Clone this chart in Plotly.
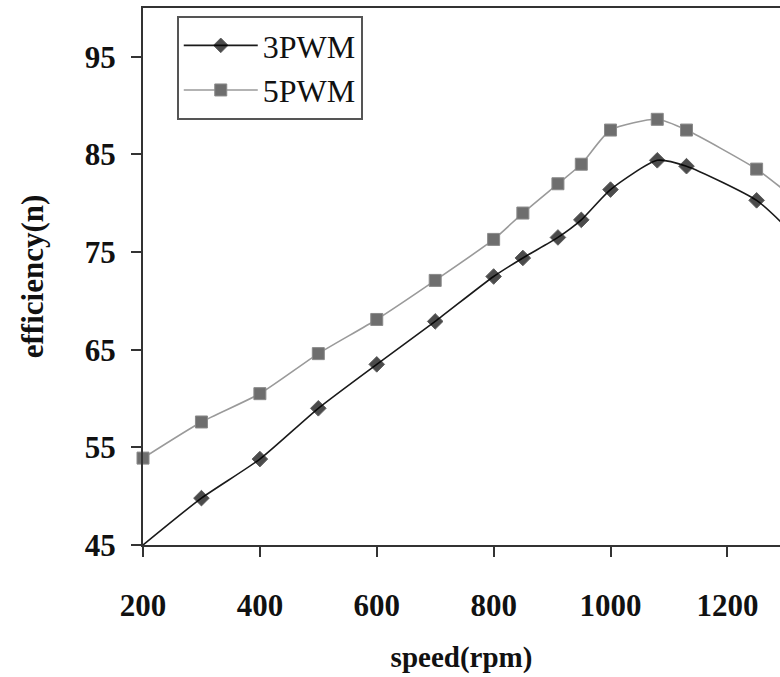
import plotly.graph_objects as go

speed = [200, 300, 400, 500, 600, 700, 800, 850, 910, 950, 1000, 1080, 1130, 1250, 1300]
pwm3 = [45.0, 49.8, 53.8, 59.0, 63.5, 67.9, 72.5, 74.4, 76.5, 78.3, 81.4, 84.4, 83.8, 80.3, 77.6]
pwm5 = [53.9, 57.6, 60.5, 64.6, 68.1, 72.1, 76.3, 79.0, 82.0, 84.0, 87.5, 88.6, 87.5, 83.5, 81.2]
x_ticks = [200, 400, 600, 800, 1000, 1200]
y_ticks = [45, 55, 65, 75, 85, 95]

FONT = "Liberation Serif"

fig = go.Figure()
fig.add_trace(go.Scatter(
    x=speed, y=pwm3, name="3PWM", mode="lines+markers",
    line=dict(color="#1a1a1a", width=1.6, shape="spline", smoothing=0.6),
    marker=dict(symbol="diamond", size=[0] + [12] * (len(speed) - 1), color="#000000"),
    cliponaxis=False,
))
fig.add_trace(go.Scatter(
    x=speed, y=pwm5, name="5PWM", mode="lines+markers",
    line=dict(color="#9a9a9a", width=1.6, shape="spline", smoothing=0.6),
    marker=dict(symbol="square", size=12, color="#6e6e6e", line=dict(color="#8a8a8a", width=1)),
    cliponaxis=False,
))

axis_common = dict(
    showgrid=False, zeroline=False, showline=True, linecolor="#333333", linewidth=2,
    ticks="outside", ticklen=10, tickwidth=2, tickcolor="#333333", automargin=False,
    tickfont=dict(family=FONT, size=31, color="#111111", weight="bold"),
)

fig.update_layout(
    width=780, height=677,
    margin=dict(l=143, r=0, t=8, b=132, autoexpand=False),
    paper_bgcolor="white", plot_bgcolor="white",
    xaxis=dict(
        range=[200, 1290], tickvals=x_ticks, mirror=True,
        ticklabelstandoff=22,
        title=dict(text="speed(rpm)", font=dict(family=FONT, size=29, color="#111111", weight="bold"), standoff=24),
        **axis_common,
    ),
    yaxis=dict(
        range=[45, 100], tickvals=y_ticks,
        ticklabelstandoff=9,
        title=dict(text="efficiency(n)", font=dict(family=FONT, size=31, color="#111111", weight="bold"), standoff=32),
        **axis_common,
    ),
    legend=dict(
        x=0.053, y=0.985, xanchor="left", yanchor="top",
        bordercolor="#555555", borderwidth=2, bgcolor="white",
        font=dict(family=FONT, size=32, color="#111111"),
        itemwidth=74,
    ),
    showlegend=True,
)

fig.write_html(
    "out.html",
    config={"displayModeBar": False},
    post_script="document.body.style.margin='0';document.body.style.overflow='hidden';",
)
